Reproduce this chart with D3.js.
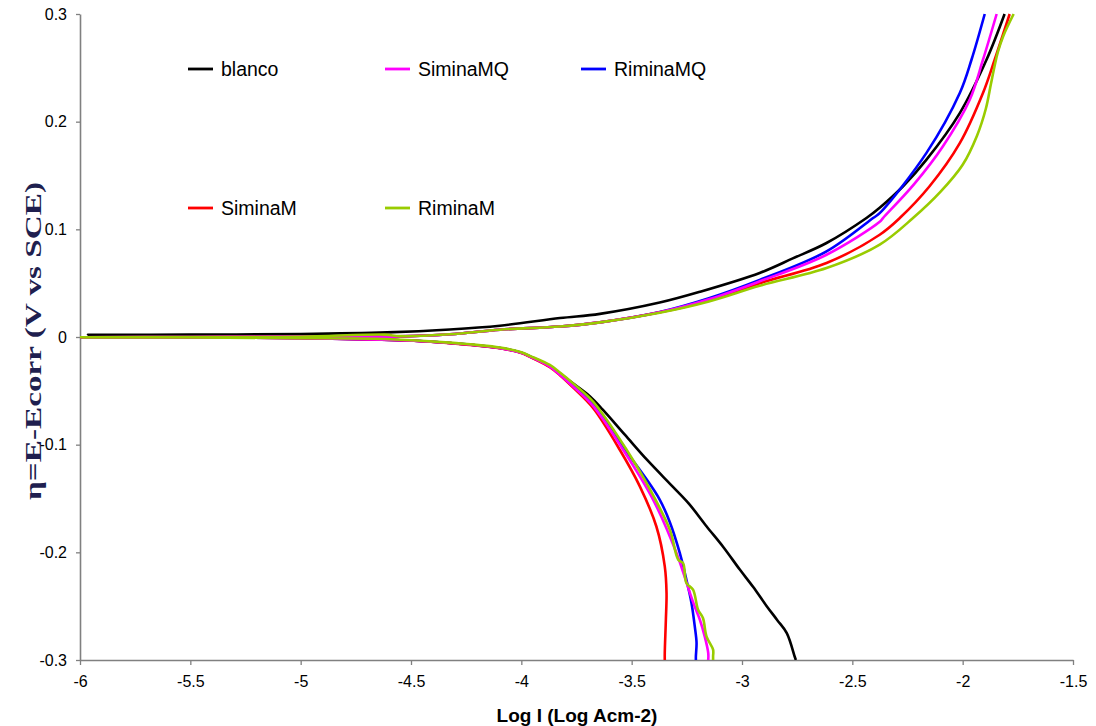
<!DOCTYPE html>
<html>
<head>
<meta charset="utf-8">
<script src="https://cdn.jsdelivr.net/npm/d3@7"></script>
<style>
  html, body { margin: 0; padding: 0; background: #fff; }
  svg { display: block; }
</style>
</head>
<body>
<svg id="chart" width="1096" height="726"></svg>
<script>
// ---------------- DATA ----------------
const seriesNames = ["blanco", "SiminaMQ", "RiminaMQ", "SiminaM", "RiminaM"];
const seriesColors = ["#000000", "#FF00FF", "#0000FF", "#FF0000", "#99CC00"];

const xTicks = [-6, -5.5, -5, -4.5, -4, -3.5, -3, -2.5, -2, -1.5];
const yTicks = [0.3, 0.2, 0.1, 0, -0.1, -0.2, -0.3];

// each series: cathodic branch (bottom -> Ecorr) then anodic branch (Ecorr -> top)
const blancoLogI = [-2.756, -2.761, -2.797, -2.84, -2.888, -2.95, -3.010, -3.085, -3.160, -3.240, -3.314, -3.431, -3.53, -3.631, -3.69, -3.76, -3.825, -3.871, -3.961, -4.0, -4.097, -4.324, -4.55, -5.0, -5.5, -5.964,
                    -5.5, -5.0, -4.609, -4.324, -4.097, -3.825, -3.644, -3.373, -3.191, -2.92, -2.77, -2.617, -2.436, -2.376, -2.27, -2.164, -2.013, -1.892, -1.81];
const blancoEta  = [-0.300, -0.297, -0.275, -0.263, -0.250, -0.232, -0.216, -0.195, -0.176, -0.155, -0.139, -0.114, -0.091, -0.0675, -0.055, -0.044, -0.034, -0.027, -0.018, -0.0145, -0.0102, -0.0055, -0.003, -0.0007, 0.0008, 0.002,
                    0.0022, 0.0028, 0.0043, 0.007, 0.0105, 0.0176, 0.0215, 0.032, 0.042, 0.0595, 0.073, 0.0873, 0.1105, 0.120, 0.140, 0.1647, 0.208, 0.2575, 0.300];

const siminaMQLogI = [-3.153, -3.153, -3.169, -3.191, -3.215, -3.236, -3.297, -3.403, -3.539, -3.675, -3.76, -3.825, -3.871, -3.961, -4.0, -4.097, -4.324, -4.55, -5.0, -5.5, -6.0,
                      -5.5, -5.0, -4.55, -4.324, -4.097, -3.825, -3.644, -3.373, -3.15, -2.92, -2.617, -2.376, -2.361, -2.22, -2.09, -1.968, -1.908, -1.846];
const siminaMQEta  = [-0.300, -0.2935, -0.278, -0.2626, -0.250, -0.2378, -0.2006, -0.151, -0.1047, -0.064, -0.047, -0.035, -0.0275, -0.0182, -0.0147, -0.0104, -0.0056, -0.003, -0.001, -0.0005, -0.0003,
                      0.0, 0.0003, 0.0006, 0.0025, 0.0068, 0.0098, 0.0136, 0.0229, 0.035, 0.0517, 0.0764, 0.107, 0.1105, 0.142, 0.177, 0.2204, 0.2575, 0.300];

const riminaMQLogI = [-3.209, -3.209, -3.206, -3.214, -3.229, -3.252, -3.282, -3.327, -3.373, -3.44, -3.53, -3.675, -3.76, -3.825, -3.871, -3.961, -4.0, -4.097, -4.324, -4.55, -5.0, -5.5, -6.0,
                      -5.5, -5.0, -4.55, -4.324, -4.097, -3.825, -3.644, -3.373, -3.15, -2.92, -2.617, -2.406, -2.376, -2.164, -2.013, -1.96, -1.90];
const riminaMQEta  = [-0.300, -0.2966, -0.284, -0.2688, -0.247, -0.2254, -0.2006, -0.172, -0.151, -0.130, -0.1047, -0.062, -0.046, -0.0345, -0.0273, -0.018, -0.0146, -0.0103, -0.0055, -0.003, -0.001, -0.0005, -0.0003,
                      0.0, 0.0003, 0.0006, 0.0025, 0.0068, 0.0098, 0.0136, 0.0232, 0.036, 0.053, 0.0795, 0.1105, 0.115, 0.171, 0.2266, 0.2575, 0.300];

const siminaMLogI = [-3.35, -3.35, -3.345, -3.342, -3.35, -3.388, -3.463, -3.554, -3.675, -3.76, -3.825, -3.871, -3.961, -4.0, -4.097, -4.324, -4.55, -5.0, -5.5, -6.0,
                     -5.5, -5.0, -4.55, -4.324, -4.097, -3.825, -3.644, -3.373, -3.15, -2.92, -2.617, -2.376, -2.285, -2.15, -2.013, -1.908, -1.855, -1.787];
const siminaMEta  = [-0.300, -0.2935, -0.2626, -0.2378, -0.213, -0.176, -0.1387, -0.1047, -0.066, -0.048, -0.0355, -0.028, -0.0185, -0.0148, -0.0105, -0.0057, -0.003, -0.001, -0.0005, -0.0003,
                     0.0, 0.0003, 0.0006, 0.0025, 0.0068, 0.0098, 0.0136, 0.0229, 0.034, 0.050, 0.0687, 0.095, 0.1105, 0.140, 0.180, 0.2266, 0.2575, 0.300];

const riminaMLogI = [-3.131, -3.131, -3.131, -3.161, -3.177, -3.199, -3.222, -3.252, -3.267, -3.289, -3.327, -3.433, -3.523, -3.675, -3.76, -3.825, -3.871, -3.961, -4.0, -4.097, -4.324, -4.62, -5.0, -5.5, -6.0,
                     -5.5, -5.0, -4.62, -4.55, -4.324, -4.097, -3.825, -3.644, -3.373, -3.15, -2.92, -2.617, -2.376, -2.225, -2.10, -2.00, -1.935, -1.895, -1.872, -1.855, -1.84, -1.815, -1.769];
const riminaMEta  = [-0.300, -0.2966, -0.2904, -0.278, -0.261, -0.2533, -0.2347, -0.2285, -0.210, -0.2068, -0.179, -0.1356, -0.1047, -0.060, -0.044, -0.033, -0.026, -0.0175, -0.0142, -0.0098, -0.0052, -0.0018, -0.001, -0.0005, -0.0003,
                     0.0, 0.0003, 0.0022, 0.0008, 0.0025, 0.0068, 0.0098, 0.0136, 0.0226, 0.033, 0.0476, 0.064, 0.0858, 0.1105, 0.135, 0.160, 0.187, 0.212, 0.235, 0.252, 0.265, 0.280, 0.300];

const seriesLogI = [blancoLogI, siminaMQLogI, riminaMQLogI, siminaMLogI, riminaMLogI];
const seriesEta  = [blancoEta, siminaMQEta, riminaMQEta, siminaMEta, riminaMEta];

// ---------------- LAYOUT ----------------
const W = 1096, H = 726;
const margin = { top: 14, right: 23, bottom: 66, left: 80 };
const iw = W - margin.left - margin.right;
const ih = H - margin.top - margin.bottom;

const svg = d3.select("#chart");
const g = svg.append("g").attr("transform", `translate(${margin.left},${margin.top})`);

const x = d3.scaleLinear().domain([-6, -1.5]).range([0, iw]);
const y = d3.scaleLinear().domain([-0.3, 0.3]).range([ih, 0]);

svg.append("defs").append("clipPath").attr("id", "clip")
  .append("rect").attr("x", 0).attr("y", -2).attr("width", iw).attr("height", ih + 2);

// axes
const axisColor = "#808080";
const fmt = d => String(d);
const xAxis = g.append("g").attr("transform", `translate(0,${ih})`)
  .call(d3.axisBottom(x).tickValues(xTicks).tickSize(5).tickSizeOuter(0).tickPadding(11).tickFormat(fmt));
const yAxis = g.append("g")
  .call(d3.axisLeft(y).tickValues(yTicks).tickSize(4).tickSizeOuter(0).tickPadding(9).tickFormat(fmt));

[xAxis, yAxis].forEach(a => {
  a.select(".domain").attr("stroke", axisColor).attr("stroke-width", 1.6);
  a.selectAll(".tick line").attr("stroke", axisColor).attr("stroke-width", 1.3);
  a.selectAll(".tick text").attr("fill", "#000").attr("font-family", "Arial, 'Liberation Sans', sans-serif").attr("font-size", 16);
});

// lines
const line = d3.line()
  .x(d => x(d[0]))
  .y(d => y(d[1]))
  .curve(d3.curveCatmullRom.alpha(0.5));

const plot = g.append("g").attr("clip-path", "url(#clip)");
const drawOrder = [0, 2, 3, 1, 4];
drawOrder.forEach(i => {
  const pts = seriesLogI[i].map((v, k) => [v, seriesEta[i][k]]);
  plot.append("path")
    .datum(pts)
    .attr("fill", "none")
    .attr("stroke", seriesColors[i])
    .attr("stroke-width", 2.6)
    .attr("stroke-linejoin", "round")
    .attr("d", line);
});

// legend
const legendPos = [[108, 55], [305, 55], [501, 55], [108, 194], [305, 194]];
seriesNames.forEach((name, i) => {
  const lg = g.append("g").attr("transform", `translate(${legendPos[i][0]},${legendPos[i][1]})`);
  lg.append("line").attr("x1", 0).attr("x2", 25).attr("y1", 0).attr("y2", 0)
    .attr("stroke", seriesColors[i]).attr("stroke-width", 2.8);
  lg.append("text").attr("x", 33).attr("y", 0).attr("dy", "0.35em")
    .attr("font-family", "Arial, 'Liberation Sans', sans-serif").attr("font-size", 19.5)
    .attr("fill", "#000").text(name);
});

// axis titles
svg.append("text")
  .attr("x", 577)
  .attr("y", 722)
  .attr("text-anchor", "middle")
  .attr("font-family", "Arial, 'Liberation Sans', sans-serif")
  .attr("font-weight", "bold").attr("font-size", 19)
  .attr("fill", "#000")
  .text("Log I (Log Acm-2)");

svg.append("text")
  .attr("transform", "translate(41,341) rotate(-90)")
  .attr("text-anchor", "middle")
  .attr("font-family", "'Liberation Serif', 'Times New Roman', serif")
  .attr("font-weight", "bold").attr("font-size", 23)
  .attr("fill", "#1f1f4f")
  .attr("textLength", 318).attr("lengthAdjust", "spacingAndGlyphs")
  .text("η=E-Ecorr (V vs SCE)");
</script>
</body>
</html>
